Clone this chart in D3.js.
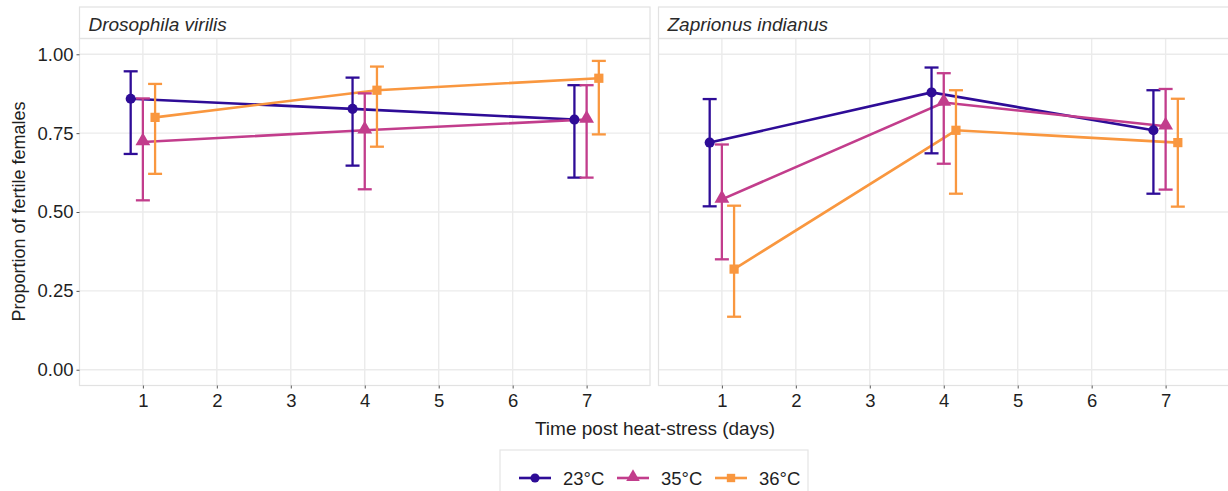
<!DOCTYPE html>
<html>
<head>
<meta charset="utf-8">
<script src="https://cdn.jsdelivr.net/npm/d3@7"></script>
<style>
  html, body { margin: 0; padding: 0; background: #fff; }
  svg { display: block; font-family: "Liberation Sans", Arial, sans-serif; }
</style>
</head>
<body>
<svg id="chart" width="1228" height="491"></svg>
<script>
// ---------------- data ----------------
const days = [1, 4, 7];
const xTicks = [1, 2, 3, 4, 5, 6, 7];
const yTicks = [0, 0.25, 0.5, 0.75, 1];
const temps = ["23°C", "35°C", "36°C"];
const speciesNames = ["Drosophila virilis", "Zaprionus indianus"];

// Drosophila virilis (rows: 23°C, 35°C, 36°C; cols: day 1, 4, 7)
const virilisMean = [[0.859, 0.827, 0.793], [0.722, 0.759, 0.793], [0.800, 0.886, 0.924]];
const virilisLow  = [[0.684, 0.647, 0.609], [0.537, 0.572, 0.609], [0.621, 0.707, 0.746]];
const virilisHigh = [[0.946, 0.926, 0.902], [0.860, 0.876, 0.902], [0.906, 0.961, 0.979]];

// Zaprionus indianus
const indianusMean = [[0.720, 0.879, 0.759], [0.540, 0.847, 0.772], [0.319, 0.759, 0.720]];
const indianusLow  = [[0.518, 0.686, 0.558], [0.350, 0.653, 0.571], [0.168, 0.558, 0.517]];
const indianusHigh = [[0.858, 0.958, 0.886], [0.714, 0.940, 0.890], [0.520, 0.886, 0.859]];

const colors = ["#2e0c97", "#c23d8c", "#f9973f"];
const shapes = [d3.symbolCircle, d3.symbolTriangle, d3.symbolSquare];
const dodge = [-0.165, 0, 0.165];

// ---------------- layout ----------------
const svg = d3.select("#chart");
const panelTop = 38.5, panelBottom = 385.5, stripTop = 7;
const panels = [
  { name: speciesNames[0], x0: 79.5, x1: 650, mean: virilisMean, low: virilisLow, high: virilisHigh },
  { name: speciesNames[1], x0: 658.5, x1: 1229, mean: indianusMean, low: indianusLow, high: indianusHigh }
];
const y = d3.scaleLinear().domain([-0.05, 1.05]).range([panelBottom, panelTop]);
const gridColor = "#ebebeb", borderColor = "#e2e2e2", textColor = "#1f1f1f";
const symSize = [80, 95, 85];

panels.forEach((p, pi) => {
  const x = d3.scaleLinear().domain([0.143, 7.857]).range([p.x0, p.x1]);
  const g = svg.append("g");

  // strip
  g.append("rect").attr("x", p.x0).attr("y", stripTop).attr("width", p.x1 - p.x0)
    .attr("height", panelTop - stripTop).attr("fill", "#fff")
    .attr("stroke", borderColor).attr("stroke-width", 1.2);
  g.append("text").attr("x", p.x0 + 9).attr("y", 30.5)
    .attr("font-size", 19).attr("font-style", "italic").attr("fill", "#2a2a2a")
    .text(p.name);

  // grid
  g.selectAll(".hg").data(yTicks).join("line")
    .attr("x1", p.x0).attr("x2", p.x1).attr("y1", d => y(d)).attr("y2", d => y(d))
    .attr("stroke", gridColor).attr("stroke-width", 1.4);
  g.selectAll(".vg").data(xTicks).join("line")
    .attr("y1", panelTop).attr("y2", panelBottom).attr("x1", d => x(d)).attr("x2", d => x(d))
    .attr("stroke", gridColor).attr("stroke-width", 1.4);
  g.append("rect").attr("x", p.x0).attr("y", panelTop).attr("width", p.x1 - p.x0)
    .attr("height", panelBottom - panelTop).attr("fill", "none")
    .attr("stroke", borderColor).attr("stroke-width", 1.2);

  // x axis
  const xAxis = d3.axisBottom(x).tickValues(xTicks).tickFormat(d3.format("d")).tickSize(3).tickPadding(5);
  const xa = g.append("g").attr("transform", `translate(0,${panelBottom})`).call(xAxis);
  xa.select(".domain").remove();
  xa.selectAll(".tick line").attr("stroke", "#555").attr("stroke-width", 1);
  xa.selectAll(".tick text").attr("font-size", 18.5).attr("fill", textColor)
    .attr("font-family", "Liberation Sans, Arial, sans-serif");

  // y axis (left panel only)
  if (pi === 0) {
    const yAxis = d3.axisLeft(y).tickValues(yTicks).tickFormat(d3.format(".2f")).tickSize(3).tickPadding(3);
    const ya = g.append("g").attr("transform", `translate(${p.x0},0)`).call(yAxis);
    ya.select(".domain").remove();
    ya.selectAll(".tick line").attr("stroke", "#555").attr("stroke-width", 1);
    ya.selectAll(".tick text").attr("font-size", 18.5).attr("fill", textColor)
      .attr("font-family", "Liberation Sans, Arial, sans-serif");
  }

  // lines
  temps.forEach((t, ti) => {
    const pts = days.map((d, di) => ({ x: x(d + dodge[ti]), m: p.mean[ti][di] }));
    g.append("path").datum(pts)
      .attr("d", d3.line().x(d => d.x).y(d => y(d.m)))
      .attr("fill", "none").attr("stroke", colors[ti]).attr("stroke-width", 2.6);
  });
  // error bars
  temps.forEach((t, ti) => {
    const pts = days.map((d, di) => ({ x: x(d + dodge[ti]), lo: p.low[ti][di], hi: p.high[ti][di] }));
    const eb = g.append("g").attr("stroke", colors[ti]).attr("stroke-width", 2.3).attr("fill", "none");
    eb.selectAll(".v").data(pts).join("line")
      .attr("x1", d => d.x).attr("x2", d => d.x).attr("y1", d => y(d.lo)).attr("y2", d => y(d.hi));
    eb.selectAll(".t").data(pts).join("line")
      .attr("x1", d => d.x - 7).attr("x2", d => d.x + 7).attr("y1", d => y(d.hi)).attr("y2", d => y(d.hi));
    eb.selectAll(".b").data(pts).join("line")
      .attr("x1", d => d.x - 7).attr("x2", d => d.x + 7).attr("y1", d => y(d.lo)).attr("y2", d => y(d.lo));
  });
  // points
  temps.forEach((t, ti) => {
    const pts = days.map((d, di) => ({ x: x(d + dodge[ti]), m: p.mean[ti][di] }));
    g.selectAll(".pt" + ti).data(pts).join("path")
      .attr("transform", d => `translate(${d.x},${y(d.m) + (ti === 1 ? -1 : 0)})`)
      .attr("d", d3.symbol().type(shapes[ti]).size(symSize[ti]))
      .attr("fill", colors[ti]);
  });
});

// axis titles
svg.append("text").attr("x", 655).attr("y", 435).attr("text-anchor", "middle")
  .attr("font-size", 19).attr("fill", textColor).text("Time post heat-stress (days)");
svg.append("text").attr("transform", `translate(25,211.5) rotate(-90)`)
  .attr("text-anchor", "middle").attr("font-size", 18).attr("fill", textColor)
  .text("Proportion of fertile females");

// legend
const legend = svg.append("g");
legend.append("rect").attr("x", 500).attr("y", 450).attr("width", 308).attr("height", 60)
  .attr("fill", "#fff").attr("stroke", "#e5e5e5").attr("stroke-width", 1.2);
const legX = [519, 617, 715];
temps.forEach((t, ti) => {
  const lx = legX[ti];
  legend.append("line").attr("x1", lx).attr("x2", lx + 32).attr("y1", 478).attr("y2", 478)
    .attr("stroke", colors[ti]).attr("stroke-width", 2.6);
  legend.append("path").attr("transform", `translate(${lx + 16},${478 + (ti === 1 ? -1 : 0)})`)
    .attr("d", d3.symbol().type(shapes[ti]).size(symSize[ti] - 15)).attr("fill", colors[ti]);
  legend.append("text").attr("x", lx + 44).attr("y", 485).attr("font-size", 18.5)
    .attr("fill", textColor).text(t);
});
</script>
</body>
</html>
